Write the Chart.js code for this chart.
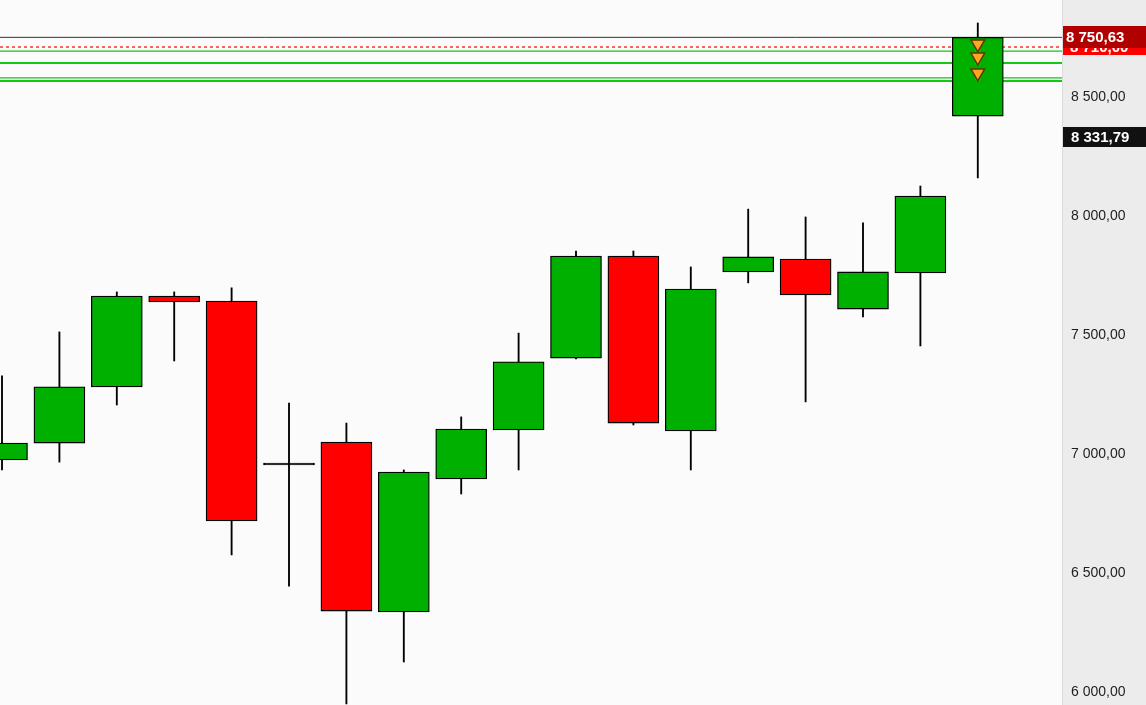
<!DOCTYPE html>
<html>
<head>
<meta charset="utf-8">
<script src="https://cdn.jsdelivr.net/npm/chart.js@4/dist/chart.umd.min.js"></script>
<style>
  html, body { margin: 0; padding: 0; background: #fbfbfb; overflow: hidden; }
  canvas { display: block; }
</style>
</head>
<body>
<canvas id="candleChart" width="1146" height="705"></canvas>
<script>
// OHLC candles, oldest first
const opens  = [6975, 7046, 7282, 7664, 7643, 6958, 7050, 6336, 6895, 7101, 7403, 7832, 7097, 7765, 7819, 7609, 7761, 8420];
const highs  = [7328, 7513, 7681, 7681, 7698, 7214, 7130, 6933, 7156, 7508, 7853, 7853, 7786, 8029, 7996, 7971, 8126, 8811];
const lows   = [6933, 6966, 7206, 7391, 6576, 6445, 5950, 6126, 6832, 6933, 7400, 7122, 6933, 7719, 7219, 7576, 7454, 8160];
const closes = [7046, 7282, 7664, 7639, 6719, 6958, 6340, 6924, 7105, 7387, 7832, 7130, 7693, 7828, 7668, 7765, 8084, 8750.63];

// horizontal levels drawn across the plot
const lastPrice = 8750.63;
const alertLevel = 8710.00;
const greenThin = [8693, 8580];
const greenThick = [8643, 8567];
const markerLevels = [8723, 8668, 8601];
const markerDots = [8700, 8645, 8578];
const refPrice = 8331.79;

const yTicks = [6000, 6500, 7000, 7500, 8000, 8500];

const X_MIN = -0.035, X_MAX = 18.467;

const fmt = (v) => {
  const parts = v.toFixed(2).split('.');
  return parts[0].replace(/\B(?=(\d{3})+(?!\d))/g, ' ') + ',' + parts[1];
};

const bodies = opens.map((o, i) => {
  const c = closes[i];
  if (o === c) return { x: i, y: [o - 4, o + 4] };
  return { x: i, y: [Math.min(o, c), Math.max(o, c)] };
});
const bodyColors = opens.map((o, i) => {
  if (o === closes[i]) return '#000000';
  return closes[i] > o ? '#00b000' : '#ff0000';
});
const wicks = highs.map((h, i) => ({ x: i, y: [lows[i], h] }));

const hLine = (v, color, width, dash) => ({
  type: 'line',
  data: [{ x: X_MIN, y: v }, { x: X_MAX, y: v }],
  borderColor: color,
  borderWidth: width,
  borderDash: dash || [],
  pointRadius: 0,
  order: 3
});

const bgPlugin = {
  id: 'bg',
  beforeDraw(chart) {
    const { ctx, chartArea } = chart;
    ctx.save();
    ctx.fillStyle = '#fbfbfb';
    ctx.fillRect(0, 0, chartArea.right, chart.height);
    ctx.fillStyle = '#ececec';
    ctx.fillRect(chartArea.right, 0, chart.width - chartArea.right, chart.height);
    ctx.fillStyle = '#dcdcdc';
    ctx.fillRect(chartArea.right, 0, 1, chart.height);
    ctx.restore();
  }
};

const priceTags = {
  id: 'priceTags',
  afterDraw(chart) {
    const { ctx, chartArea } = chart;
    const y = chart.scales.y;
    const tag = (v, bg, tx, h) => {
      const py = y.getPixelForValue(v);
      ctx.fillStyle = bg;
      ctx.fillRect(chartArea.right + 1, Math.round(py - h / 2), chart.width - chartArea.right, h);
      ctx.fillStyle = '#ffffff';
      ctx.font = 'bold 15px "Liberation Sans", Arial, sans-serif';
      ctx.textBaseline = 'middle';
      ctx.fillText(fmt(v), chartArea.right + tx, py + 1);
    };
    ctx.save();
    tag(alertLevel, '#ff0000', 8, 16);
    tag(lastPrice, '#b00000', 4, 22);
    tag(refPrice, '#111111', 9, 20);
    ctx.restore();
  }
};

new Chart(document.getElementById('candleChart'), {
  type: 'bar',
  data: {
    datasets: [
      {
        type: 'line',
        data: markerLevels.map(v => ({ x: 17, y: v })),
        showLine: false,
        pointStyle: 'triangle',
        rotation: 180,
        pointRadius: 8,
        backgroundColor: '#ffa61e',
        borderColor: '#5a3800',
        borderWidth: 1.5,
        order: 0
      },
      {
        type: 'line',
        data: markerDots.map(v => ({ x: 17, y: v })),
        showLine: false,
        pointRadius: 3,
        pointBorderWidth: 0,
        backgroundColor: '#12c812',
        order: 0.5
      },
      {
        data: bodies,
        backgroundColor: bodyColors,
        borderColor: '#000000',
        borderWidth: 1.3,
        borderSkipped: false,
        barThickness: 51,
        grouped: false,
        order: 1
      },
      {
        data: wicks,
        backgroundColor: '#000000',
        borderWidth: 0,
        barThickness: 1.2,
        grouped: false,
        order: 2
      },
      hLine(lastPrice, '#333333', 1),
      hLine(alertLevel, '#ff0000', 1.2, [3, 3]),
      hLine(greenThin[0], '#12c812', 1.2),
      hLine(greenThick[0], '#12c812', 2),
      hLine(greenThin[1], '#12c812', 1.2),
      hLine(greenThick[1], '#12c812', 2)
    ]
  },
  options: {
    responsive: false,
    animation: false,
    devicePixelRatio: 1,
    layout: { padding: 0, autoPadding: false },
    plugins: {
      legend: { display: false },
      tooltip: { enabled: false }
    },
    scales: {
      x: {
        type: 'linear',
        min: X_MIN,
        max: X_MAX,
        offset: false,
        display: false
      },
      y: {
        position: 'right',
        min: 5945.4,
        max: 8907.6,
        grid: { display: false, drawTicks: false },
        border: { display: false },
        afterBuildTicks: (scale) => {
          scale.ticks = yTicks.map(v => ({ value: v }));
        },
        afterFit: (scale) => {
          scale.width = 84;
          scale.paddingTop = 0;
          scale.paddingBottom = 0;
        },
        ticks: {
          padding: 9,
          color: '#1e1e1e',
          font: { family: '"Liberation Sans", Arial, sans-serif', size: 14 },
          callback: (v) => fmt(v)
        }
      }
    }
  },
  plugins: [bgPlugin, priceTags]
});
</script>
</body>
</html>
